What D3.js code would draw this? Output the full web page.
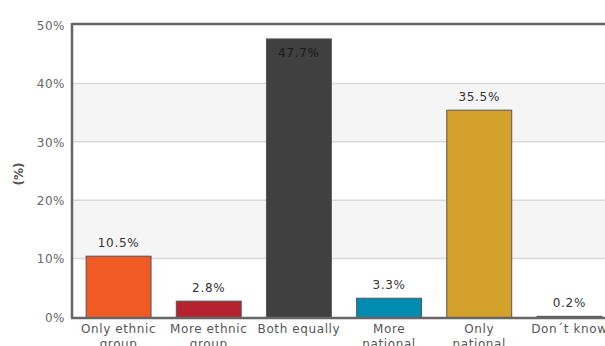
<!DOCTYPE html>
<html><head><meta charset="utf-8">
<script src="https://cdn.jsdelivr.net/npm/d3@7"></script>
<style>body{margin:0;background:#fff;overflow:hidden}svg{display:block}</style>
</head><body>
<svg id="c" width="605" height="346"></svg>
<script>
const categories = ["Only ethnic group", "More ethnic group", "Both equally", "More national group", "Only national group", "Don´t know"];
const labelLines = [["Only ethnic","group"],["More ethnic","group"],["Both equally"],["More","national","group"],["Only","national","group"],["Don´t know"]];
const values = [10.5, 2.8, 47.7, 3.3, 35.5, 0.2];
const colors = ["#f05a24", "#b4232e", "#404040", "#008bb2", "#d4a22b", "#3a3a3a"];
const yTicks = [0, 10, 20, 30, 40, 50];

(function(){
const svg = d3.select("#c");
const mLeft = 73, mTop = 25, mBottom = 317, mRight = 614;
const font = "'DejaVu Sans', Verdana, sans-serif";

const x = d3.scaleBand().domain(categories).range([mLeft, mRight]).paddingInner(0.28).paddingOuter(0.14);
const y = d3.scaleLinear().domain([0, 50]).range([mBottom, mTop]);

for (let i = 0; i < yTicks.length - 1; i++) {
  if (i % 2 === 1) {
    svg.append("rect").attr("x", mLeft).attr("y", y(yTicks[i+1])).attr("width", mRight - mLeft)
      .attr("height", y(yTicks[i]) - y(yTicks[i+1])).attr("fill", "#f5f5f5");
  }
}
svg.append("g").selectAll("line").data(yTicks.slice(1, -1)).join("line")
  .attr("x1", mLeft).attr("x2", mRight).attr("y1", d => y(d)).attr("y2", d => y(d))
  .attr("stroke", "#d9d9d9").attr("stroke-width", 1.5);

svg.append("g").selectAll("rect").data(values).join("rect")
  .attr("x", (d, i) => x(categories[i]) + 0.5)
  .attr("y", d => y(d) + 0.5)
  .attr("width", x.bandwidth())
  .attr("height", d => mBottom - y(d))
  .attr("fill", (d, i) => colors[i])
  .attr("stroke", "#555").attr("stroke-width", 1);

svg.append("g").selectAll("text").data(values).join("text")
  .attr("x", (d, i) => x(categories[i]) + x.bandwidth() / 2 + 0.5)
  .attr("y", d => d > 45 ? y(d) + 19 : y(d) - 9)
  .attr("text-anchor", "middle")
  .attr("font-family", font).attr("font-size", 12).attr("letter-spacing", 0.7)
  .attr("fill", d => d > 45 ? "#1a1a1a" : "#333")
  .text(d => d.toFixed(1) + "%");

svg.append("line").attr("x1", mLeft - 1).attr("x2", 605).attr("y1", mTop - 1).attr("y2", mTop - 1)
  .attr("stroke", "#666").attr("stroke-width", 2.5);
svg.append("line").attr("x1", mLeft - 1).attr("x2", mLeft - 1).attr("y1", mTop - 2).attr("y2", mBottom + 1)
  .attr("stroke", "#666").attr("stroke-width", 2.5);
svg.append("line").attr("x1", mLeft - 2).attr("x2", 605).attr("y1", mBottom + 1).attr("y2", mBottom + 1)
  .attr("stroke", "#666").attr("stroke-width", 2.5);

const yAxis = d3.axisLeft(y).tickValues(yTicks).tickFormat(d => d + "%").tickSize(0).tickPadding(0);
const ya = svg.append("g").attr("transform", `translate(${mLeft - 8},0)`).call(yAxis);
ya.select(".domain").remove();
ya.selectAll("text").attr("font-family", font).attr("font-size", 12).attr("letter-spacing", 0.5)
  .attr("fill", "#666").attr("dy", "0.35em");

svg.append("text").attr("transform", "translate(23,174) rotate(-90)")
  .attr("text-anchor", "middle").attr("font-family", font).attr("font-size", 12)
  .attr("font-weight", "bold").attr("fill", "#555").text("(%)");

const xl = svg.append("g").selectAll("text").data(categories).join("text")
  .attr("x", d => x(d) + x.bandwidth() / 2 + 0.5)
  .attr("y", 333)
  .attr("text-anchor", "middle")
  .attr("font-family", font).attr("font-size", 12).attr("letter-spacing", 0.6).attr("fill", "#555");
xl.each(function(d, i) {
  const t = d3.select(this);
  labelLines[i].forEach((ln, k) => {
    t.append("tspan").attr("x", x(d) + x.bandwidth() / 2 + 0.5).attr("dy", k === 0 ? 0 : 15).text(ln);
  });
});
})();
</script>
</body></html>
